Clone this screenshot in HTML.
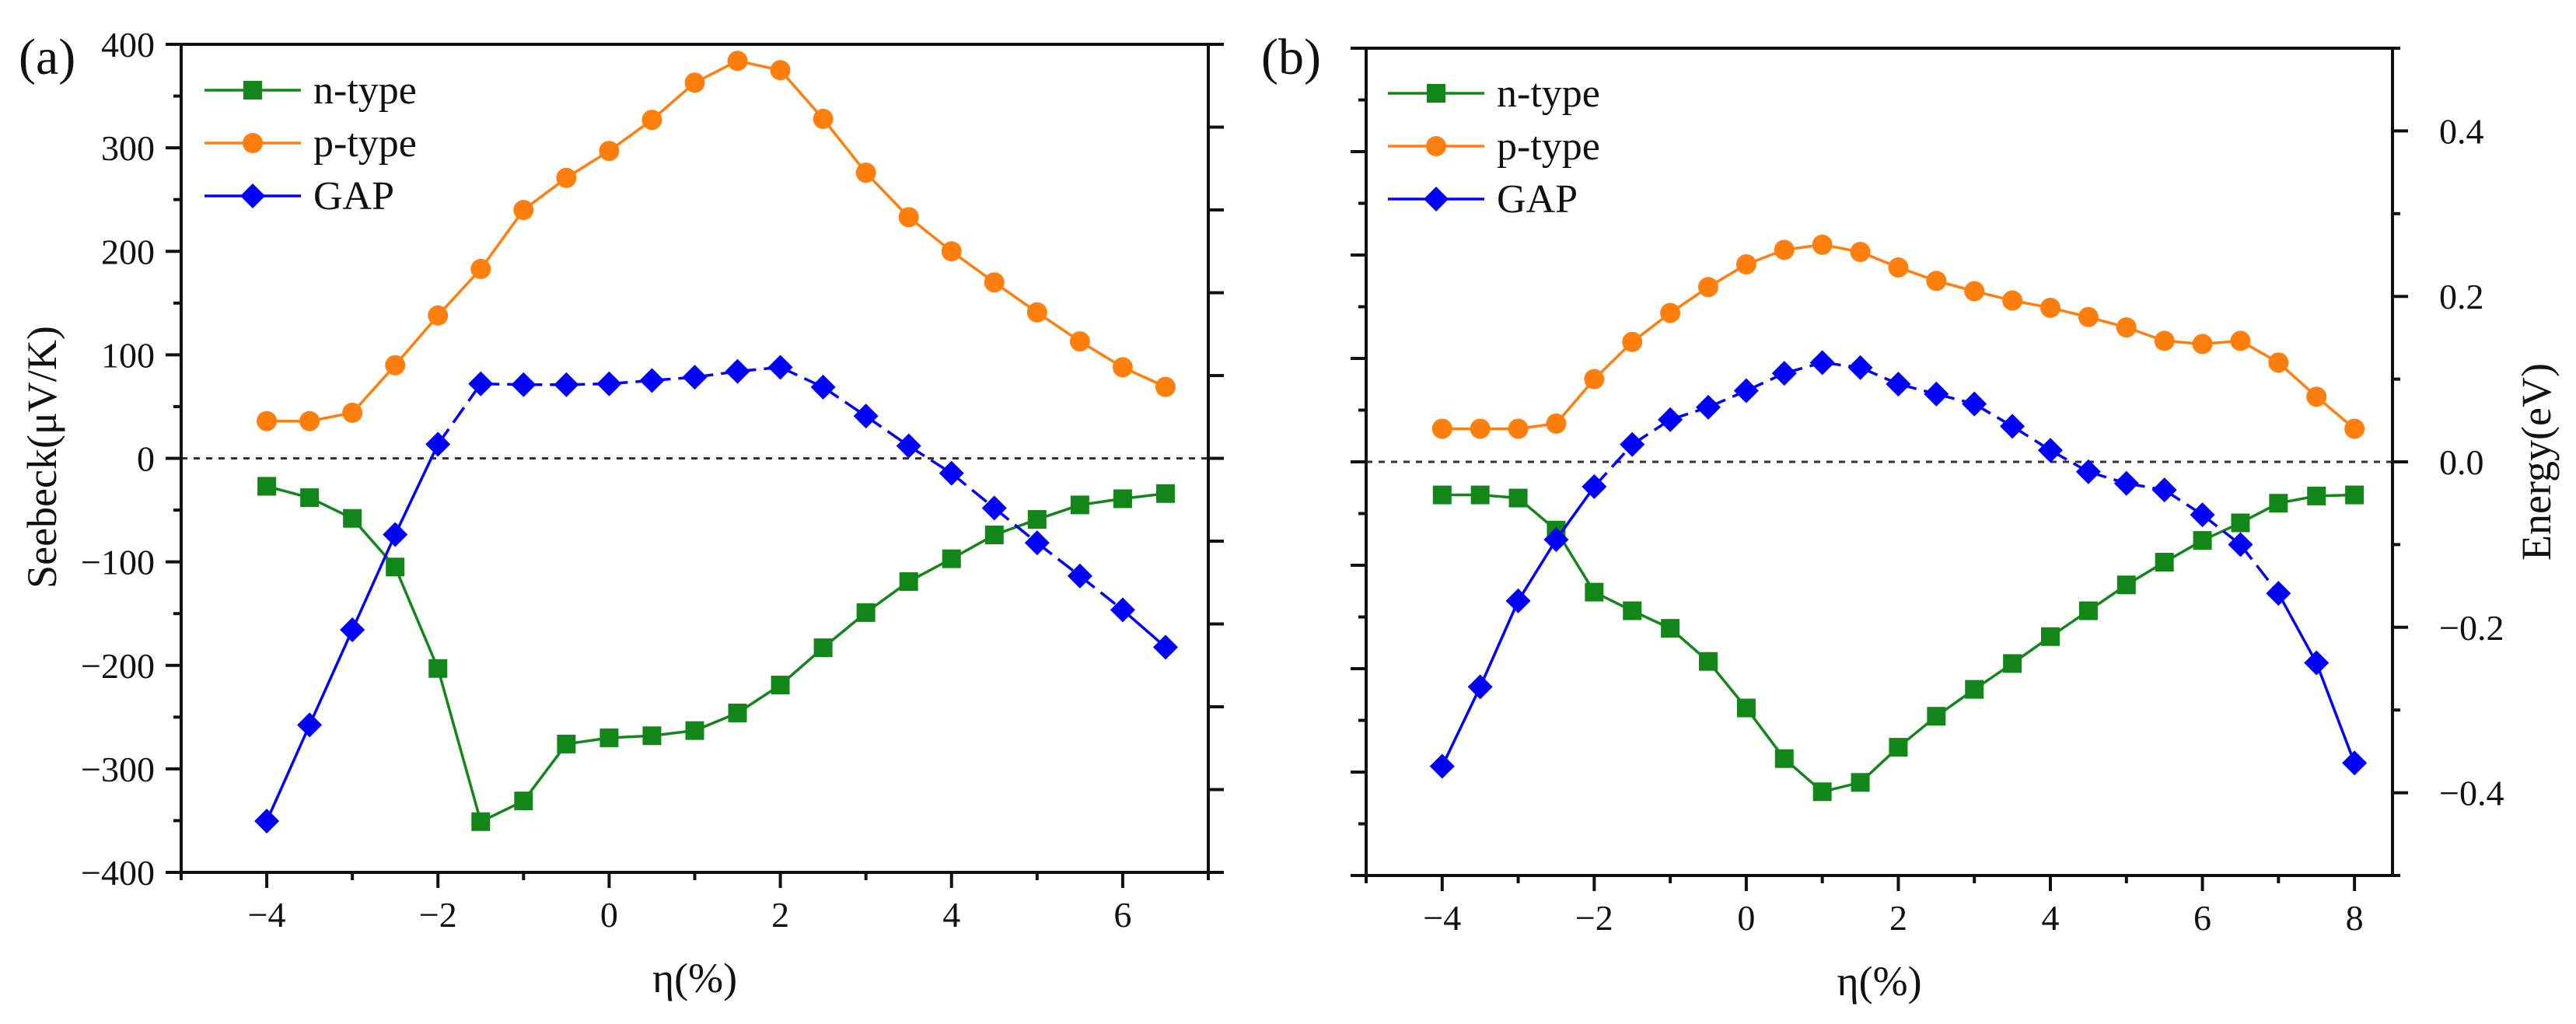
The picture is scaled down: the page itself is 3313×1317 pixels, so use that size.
<!DOCTYPE html>
<html><head><meta charset="utf-8">
<style>
html,body{margin:0;padding:0;background:#fff;}
svg{display:block;}
text{font-family:"Liberation Serif","DejaVu Serif",serif;fill:#111;}
</style></head>
<body>
<svg id="chart" width="3313" height="1317" viewBox="0 0 3313 1317" xmlns="http://www.w3.org/2000/svg" font-family="Liberation Serif, serif"></svg>
<script>
// ---- Panel (a) data ----
const xA = [-4,-3.5,-3,-2.5,-2,-1.5,-1,-0.5,0,0.5,1,1.5,2,2.5,3,3.5,4,4.5,5,5.5,6,6.5];
const nTypeA = [-27,-38,-58,-105,-203,-351,-331,-276,-270,-268,-263,-246,-219,-183,-149,-119,-97,-74,-59,-45,-39,-34];
const pTypeA = [36,36,44,90,138,183,240,271,297,327,363,384,375,328,276,233,200,170,141,113,88,69];
const gapA = [-0.438,-0.322,-0.207,-0.092,0.017,0.090,0.089,0.089,0.090,0.094,0.098,0.105,0.110,0.086,0.051,0.015,-0.018,-0.060,-0.102,-0.142,-0.183,-0.228];
const yTicksA = [-400,-300,-200,-100,0,100,200,300,400];
const xTicksA = [-4,-2,0,2,4,6];
// ---- Panel (b) data ----
const xB = [-4,-3.5,-3,-2.5,-2,-1.5,-1,-0.5,0,0.5,1,1.5,2,2.5,3,3.5,4,4.5,5,5.5,6,6.5,7,7.5,8];
const nTypeB = [-32,-32,-35,-66,-126,-144,-161,-193,-238,-287,-319,-310,-276,-246,-220,-195,-169,-144,-119,-97,-76,-59,-40,-33,-32];
const pTypeB = [32,32,32,37,80,116,144,169,191,205,210,203,188,175,165,156,149,140,130,117,114,117,96,63,32];
const gapB = [-0.368,-0.272,-0.168,-0.094,-0.030,0.021,0.051,0.066,0.086,0.107,0.120,0.114,0.094,0.082,0.070,0.043,0.014,-0.012,-0.026,-0.034,-0.064,-0.100,-0.159,-0.243,-0.364];
const xTicksB = [-4,-2,0,2,4,6,8];
const eTicksB = [-0.4,-0.2,0.0,0.2,0.4];

const NS = "http://www.w3.org/2000/svg";
const FONT = '"Liberation Serif", serif';
const svg = document.getElementById('chart');
function mk(tag, attrs, parent){
  const e = document.createElementNS(NS, tag);
  for (const k in attrs) e.setAttribute(k, attrs[k]);
  if (tag==='text') e.setAttribute('font-family', FONT);
  (parent||svg).appendChild(e);
  return e;
}
function lin(d0,d1,r0,r1){ return v => r0 + (v-d0)/(d1-d0)*(r1-r0); }

function drawMarker(g, type, x, y, color){
  let m;
  if (type==='square') m = mk('rect',{x:x-12,y:y-12,width:24,height:24,fill:color},g);
  else if (type==='circle') m = mk('circle',{cx:x,cy:y,r:13,fill:color},g);
  else m = mk('polygon',{points:`${x},${y-16} ${x+16},${y} ${x},${y+16} ${x-16},${y}`,fill:color},g);
  return m;
}

function drawPanel(cfg){
  const P = mk('g',{});
  
  
  const {L,R,T,B} = cfg;
  const sx = lin(cfg.xmin,cfg.xmax,L,R);
  const sy = lin(-400,400,B,T);
  const se = lin(-0.5,0.5,B,T);
  const z = mk('line',{x1:L,x2:R,y1:sy(0),y2:sy(0),stroke:'#333','stroke-width':3,'stroke-dasharray':'8,8'},P);
  
  
  const series = [
    {vals:cfg.n, scale:sy, color:'#13861a', m:'square', name:'n-type'},
    {vals:cfg.p, scale:sy, color:'#ff7f0e', m:'circle', name:'p-type'},
    {vals:cfg.g, scale:se, color:'#0000ff', m:'diamond', name:'gap'}
  ];
  series.forEach(s=>{
    const g = mk('g',{},P);
    
    
    for (let i=0;i<s.vals.length-1;i++){
      const dashed = s.m==='diamond' && i>=cfg.dashFrom && i<cfg.dashTo;
      const ln = mk('line',{x1:sx(cfg.x[i]),y1:s.scale(s.vals[i]),x2:sx(cfg.x[i+1]),y2:s.scale(s.vals[i+1]),stroke:s.color,'stroke-width':3.5},g);
      if (dashed) ln.setAttribute('stroke-dasharray','24,10');
    }
    s.vals.forEach((v,i)=>{
      const m = drawMarker(g, s.m, sx(cfg.x[i]), s.scale(v), s.color);
      
      
    });
  });
  const fr = mk('rect',{x:L,y:T,width:R-L,height:B-T,fill:'none',stroke:'#111','stroke-width':4},P);
  
  
  for (let v=Math.ceil(cfg.xmin); v<=cfg.xmax; v++){
    const major = v%2===0;
    mk('line',{x1:sx(v),x2:sx(v),y1:B,y2:B+(major?20:10),stroke:'#111','stroke-width':4},P);
  }
  cfg.xt.forEach(v=>{
    const t = mk('text',{x:sx(v),y:B+70,'font-size':46,'text-anchor':'middle'},P);
    t.textContent = v<0 ? '\u2212'+Math.abs(v) : String(v);
    
    
  });
  for (let v=-400; v<=400; v+=50){
    const major = v%100===0;
    mk('line',{x1:L,x2:L-(major?20:10),y1:sy(v),y2:sy(v),stroke:'#111','stroke-width':4},P);
  }
  if (cfg.leftLabels){
    yTicksA.forEach(v=>{
      const t = mk('text',{x:L-34,y:sy(v)+16,'font-size':46,'text-anchor':'end'},P);
      t.textContent = v<0 ? '\u2212'+Math.abs(v) : String(v);
      
      
    });
  }
  for (let k=-5;k<=5;k++){
    const v = k/10;
    const major = cfg.rightLabels ? (k%2===0) : true;
    mk('line',{x1:R,x2:R+(major?20:10),y1:se(v),y2:se(v),stroke:'#111','stroke-width':4},P);
  }
  if (cfg.rightLabels){
    eTicksB.forEach(v=>{
      const t = mk('text',{x:R+60,y:se(v)+16,'font-size':46,'text-anchor':'start'},P);
      t.textContent = (v<0?'\u2212':'')+Math.abs(v).toFixed(1);
      
      
    });
  }
  const xt = mk('text',{x:(L+R)/2,y:B+154,'font-size':54,'text-anchor':'middle'},P);
  xt.textContent = '\u03b7(%)';
  
  
  const pl = mk('text',{x:cfg.labelX,y:95,'font-size':66},P);
  pl.textContent = cfg.label;
  
  
  const lg = mk('g',{},P);
  
  
  const names = ['n-type','p-type','GAP'];
  series.forEach((s,i)=>{
    const y = cfg.legY + i*68;
    const e = mk('g',{},lg);
    
    
    mk('line',{x1:cfg.legX,x2:cfg.legX+124,y1:y,y2:y,stroke:s.color,'stroke-width':3.5},e);
    drawMarker(e, s.m, cfg.legX+62, y, s.color);
    const t = mk('text',{x:cfg.legX+140,y:y+17,'font-size':52},e);
    t.textContent = names[i];
  });
}

drawPanel({name:'panel-a', L:233,R:1554,T:57,B:1122, xmin:-5,xmax:7, x:xA, n:nTypeA, p:pTypeA, g:gapA, xt:xTicksA,
  leftLabels:true, rightLabels:false, label:'(a)', labelX:24, legX:263, legY:116, dashFrom:4, dashTo:20});
drawPanel({name:'panel-b', L:1757,R:3077,T:62,B:1126, xmin:-5,xmax:8.5, x:xB, n:nTypeB, p:pTypeB, g:gapB, xt:xTicksB,
  leftLabels:false, rightLabels:true, label:'(b)', labelX:1622, legX:1785, legY:120, dashFrom:4, dashTo:22});

const yt = mk('text',{x:0,y:0,'font-size':54,'text-anchor':'middle',transform:'translate(72,588) rotate(-90)'});
yt.textContent = 'Seebeck(\u03bcV/K)';


const et = mk('text',{x:0,y:0,'font-size':54,'text-anchor':'middle',transform:'translate(3280,594) rotate(-90)'});
et.textContent = 'Energy(eV)';


</script>
</body></html>
